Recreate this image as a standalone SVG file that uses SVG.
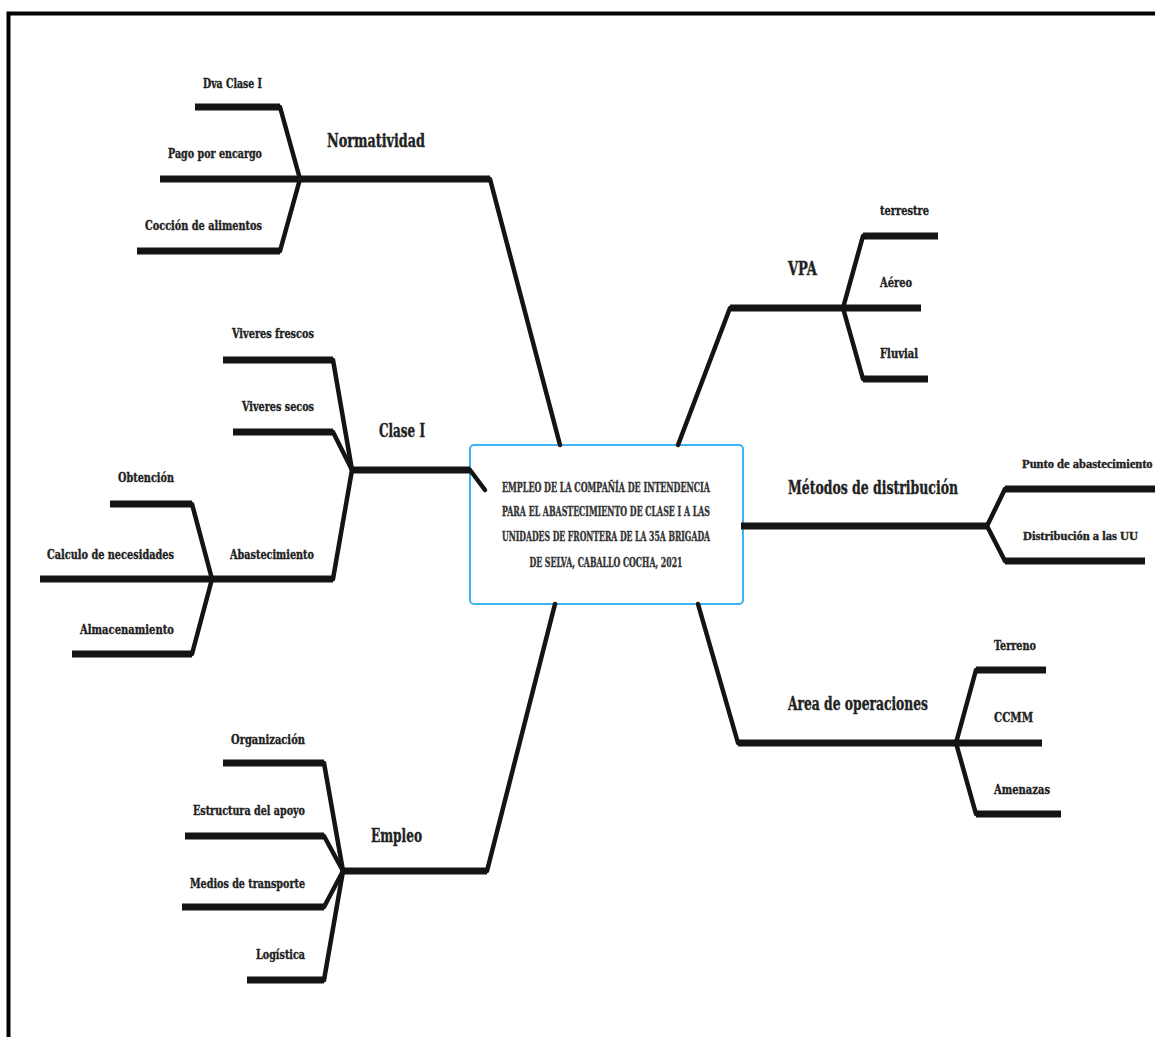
<svg xmlns="http://www.w3.org/2000/svg" width="1155" height="1037" viewBox="0 0 1155 1037">
<style>
  .bg{fill:#ffffff}
  .frame{fill:none;stroke:#000;stroke-width:4}
  .h{stroke:#141414;stroke-width:7;stroke-linecap:butt}
  .s{stroke:#141414;stroke-width:4.5;stroke-linecap:round}
  .box{fill:#ffffff;stroke:#3db4f2;stroke-width:2}
  text{font-family:"DejaVu Serif Condensed","DejaVu Serif","Liberation Serif",serif;font-weight:bold;fill:#222;stroke:#222;stroke-width:0.35}
  .sub{font-size:13px}
  .main{font-size:18px}
  .ctr{font-size:12.5px;fill:#333;stroke:#333;text-anchor:middle}
  .e{text-anchor:end}
  .narrow{font-family:"Liberation Serif",serif;font-size:12.5px}
</style>
<rect class="bg" x="0" y="0" width="1155" height="1037"/>
<polyline class="frame" points="8.5,1040 8.5,13.5 1160,13.5"/>

<g id="center">
  <rect class="box" x="470" y="445" width="273" height="159" rx="4"/>
  <text class="ctr" x="606" y="492" textLength="208" lengthAdjust="spacingAndGlyphs">EMPLEO DE LA COMPAÑÍA DE INTENDENCIA</text>
  <text class="ctr" x="606" y="516" textLength="208" lengthAdjust="spacingAndGlyphs">PARA EL ABASTECIMIENTO DE CLASE I A LAS</text>
  <text class="ctr" x="606" y="541" textLength="208" lengthAdjust="spacingAndGlyphs">UNIDADES DE FRONTERA DE LA 35A BRIGADA</text>
  <text class="ctr" x="606" y="567" textLength="153" lengthAdjust="spacingAndGlyphs">DE SELVA, CABALLO COCHA, 2021</text>
</g>

<g id="connectors">
  <!-- Normatividad -->
  <line class="s" x1="490" y1="179" x2="560" y2="445"/>
  <line class="h" x1="300" y1="179" x2="490" y2="179"/>
  <line class="h" x1="195" y1="107" x2="280" y2="107"/>
  <line class="s" x1="280" y1="107" x2="300" y2="179"/>
  <line class="h" x1="160" y1="179" x2="300" y2="179"/>
  <line class="h" x1="137" y1="251" x2="280" y2="251"/>
  <line class="s" x1="280" y1="251" x2="300" y2="179"/>
  <!-- Clase I -->
  <line class="h" x1="352" y1="470" x2="470" y2="470"/>
  <line class="s" x1="470" y1="470" x2="485" y2="490"/>
  <line class="h" x1="223" y1="360" x2="333" y2="360"/>
  <line class="s" x1="333" y1="360" x2="352" y2="470"/>
  <line class="h" x1="233" y1="432" x2="333" y2="432"/>
  <line class="s" x1="333" y1="432" x2="352" y2="470"/>
  <line class="h" x1="212" y1="579" x2="333" y2="579"/>
  <line class="s" x1="333" y1="579" x2="352" y2="470"/>
  <line class="h" x1="110" y1="504" x2="192" y2="504"/>
  <line class="s" x1="192" y1="504" x2="212" y2="579"/>
  <line class="h" x1="40" y1="579" x2="212" y2="579"/>
  <line class="h" x1="72" y1="654" x2="192" y2="654"/>
  <line class="s" x1="192" y1="654" x2="212" y2="579"/>
  <!-- VPA -->
  <line class="s" x1="678" y1="445" x2="730" y2="308"/>
  <line class="h" x1="730" y1="308" x2="921" y2="308"/>
  <line class="s" x1="843" y1="308" x2="863" y2="236"/>
  <line class="h" x1="863" y1="236" x2="938" y2="236"/>
  <line class="s" x1="843" y1="308" x2="863" y2="379"/>
  <line class="h" x1="863" y1="379" x2="928" y2="379"/>
  <!-- Métodos de distribución -->
  <line class="h" x1="741" y1="526" x2="987" y2="526"/>
  <line class="s" x1="987" y1="526" x2="1005" y2="489"/>
  <line class="h" x1="1005" y1="489" x2="1155" y2="489"/>
  <line class="s" x1="987" y1="526" x2="1005" y2="561"/>
  <line class="h" x1="1005" y1="561" x2="1145" y2="561"/>
  <!-- Area de operaciones -->
  <line class="s" x1="698" y1="604" x2="738" y2="743"/>
  <line class="h" x1="738" y1="743" x2="1042" y2="743"/>
  <line class="s" x1="956" y1="743" x2="976" y2="670"/>
  <line class="h" x1="976" y1="670" x2="1046" y2="670"/>
  <line class="s" x1="956" y1="743" x2="976" y2="814"/>
  <line class="h" x1="976" y1="814" x2="1061" y2="814"/>
  <!-- Empleo -->
  <line class="s" x1="555" y1="604" x2="487" y2="871"/>
  <line class="h" x1="343" y1="871" x2="487" y2="871"/>
  <line class="h" x1="223" y1="763" x2="324" y2="763"/>
  <line class="s" x1="324" y1="763" x2="343" y2="871"/>
  <line class="h" x1="185" y1="836" x2="324" y2="836"/>
  <line class="s" x1="324" y1="836" x2="343" y2="871"/>
  <line class="h" x1="182" y1="907" x2="324" y2="907"/>
  <line class="s" x1="324" y1="907" x2="343" y2="871"/>
  <line class="h" x1="247" y1="980" x2="324" y2="980"/>
  <line class="s" x1="324" y1="980" x2="343" y2="871"/>
</g>

<g id="normatividad"><text class="main" x="327" y="147" textLength="98" lengthAdjust="spacingAndGlyphs">Normatividad</text></g>
<g id="dva-clase-i"><text class="sub e" x="262" y="88" textLength="59" lengthAdjust="spacingAndGlyphs">Dva Clase I</text></g>
<g id="pago-por-encargo"><text class="sub e" x="262" y="158" textLength="94" lengthAdjust="spacingAndGlyphs">Pago por encargo</text></g>
<g id="coccion"><text class="sub e" x="262" y="230" textLength="117" lengthAdjust="spacingAndGlyphs">Cocción de alimentos</text></g>

<g id="clase-i"><text class="main" x="379" y="437" textLength="46" lengthAdjust="spacingAndGlyphs">Clase I</text></g>
<g id="viveres-frescos"><text class="sub e" x="314" y="338" textLength="82" lengthAdjust="spacingAndGlyphs">Viveres frescos</text></g>
<g id="viveres-secos"><text class="sub e" x="314" y="411" textLength="72" lengthAdjust="spacingAndGlyphs">Viveres secos</text></g>
<g id="abastecimiento"><text class="sub e" x="314" y="559" textLength="84" lengthAdjust="spacingAndGlyphs">Abastecimiento</text></g>
<g id="obtencion"><text class="sub e" x="174" y="482" textLength="56" lengthAdjust="spacingAndGlyphs">Obtención</text></g>
<g id="calculo"><text class="sub e" x="174" y="559" textLength="127" lengthAdjust="spacingAndGlyphs">Calculo de necesidades</text></g>
<g id="almacenamiento"><text class="sub e" x="174" y="634" textLength="94" lengthAdjust="spacingAndGlyphs">Almacenamiento</text></g>

<g id="vpa"><text class="main" x="788" y="275" textLength="29" lengthAdjust="spacingAndGlyphs">VPA</text></g>
<g id="terrestre"><text class="sub" x="880" y="215" textLength="49" lengthAdjust="spacingAndGlyphs">terrestre</text></g>
<g id="aereo"><text class="sub" x="880" y="287" textLength="32" lengthAdjust="spacingAndGlyphs">Aéreo</text></g>
<g id="fluvial"><text class="sub" x="880" y="358" textLength="38" lengthAdjust="spacingAndGlyphs">Fluvial</text></g>

<g id="metodos"><text class="main" x="788" y="494" textLength="170" lengthAdjust="spacingAndGlyphs">Métodos de distribución</text></g>
<g id="punto"><text class="narrow" x="1022" y="468">Punto de abastecimiento</text></g>
<g id="distribucion"><text class="narrow" x="1023" y="540">Distribución a las UU</text></g>

<g id="area"><text class="main" x="788" y="710" textLength="140" lengthAdjust="spacingAndGlyphs">Area de operaciones</text></g>
<g id="terreno"><text class="sub" x="994" y="650" textLength="42" lengthAdjust="spacingAndGlyphs">Terreno</text></g>
<g id="ccmm"><text class="sub" x="994" y="722" textLength="39" lengthAdjust="spacingAndGlyphs">CCMM</text></g>
<g id="amenazas"><text class="sub" x="994" y="794" textLength="56" lengthAdjust="spacingAndGlyphs">Amenazas</text></g>

<g id="empleo"><text class="main" x="371" y="842" textLength="51" lengthAdjust="spacingAndGlyphs">Empleo</text></g>
<g id="organizacion"><text class="sub e" x="305" y="744" textLength="74" lengthAdjust="spacingAndGlyphs">Organización</text></g>
<g id="estructura"><text class="sub e" x="305" y="815" textLength="112" lengthAdjust="spacingAndGlyphs">Estructura del apoyo</text></g>
<g id="medios"><text class="sub e" x="305" y="888" textLength="115" lengthAdjust="spacingAndGlyphs">Medios de transporte</text></g>
<g id="logistica"><text class="sub e" x="305" y="959" textLength="49" lengthAdjust="spacingAndGlyphs">Logística</text></g>
</svg>
